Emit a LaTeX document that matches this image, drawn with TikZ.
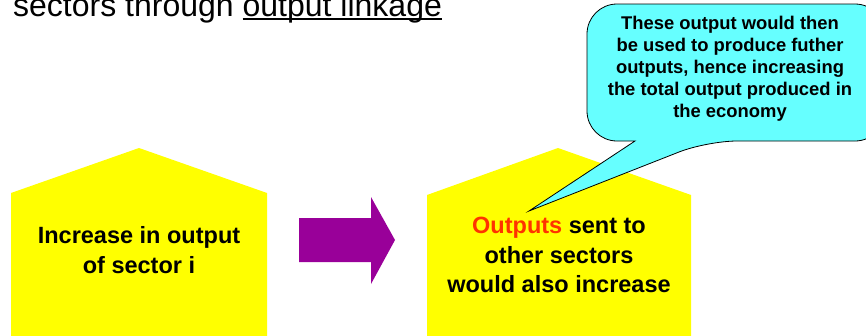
\documentclass[tikz,border=0pt]{standalone}
\usepackage{fontspec}
\setmainfont{Liberation Sans}
\definecolor{boxyellow}{HTML}{FFFF00}
\definecolor{arrowpurple}{HTML}{990099}
\definecolor{calloutcyan}{HTML}{66FFFF}
\definecolor{keyred}{HTML}{FF3300}
\newcommand\thickul[1]{\setbox0\hbox{#1}\rlap{\rule[-4pt]{\wd0}{2.4pt}}\box0}
\begin{document}
\begin{tikzpicture}[
      x=1pt, y=-1pt,
      house/.style={fill=boxyellow, draw=none},
      housetext/.style={font=\fontsize{23.5}{29.5}\selectfont\bfseries, align=center},
      bubble/.style={fill=calloutcyan, draw=black, line width=0.8pt, rounded corners=30pt},
      bubbletext/.style={font=\fontsize{18.4}{22}\selectfont\bfseries, align=center},
      bigarrow/.style={fill=arrowpurple, draw=none},
      heading/.style={font=\fontsize{32}{36}\selectfont, anchor=base west, inner sep=0pt}
    ]
    \clip (0,0) rectangle (866,335);
    \useasboundingbox (0,0) rectangle (866,335);

    % Heading, cut at the top
    \node[heading] (title) at (13,16)
      {sectors through \thickul{output linkage}};

    % Left house
    \fill[house] (11,336) -- (11,193) -- (139,148) -- (267,193) -- (267,336) -- cycle;
    \node[housetext] (cause) at (139,250) {Increase in output\\of sector i};

    % Block arrow
    \fill[bigarrow] (299,218) -- (371,218) -- (371,197) -- (395,240)
      -- (371,284) -- (371,262) -- (299,262) -- cycle;

    % Right house
    \fill[house] (427,336) -- (427,195) -- (558,148) -- (691,195) -- (691,336) -- cycle;
    \node[housetext] (effect) at (559,255)
      {\textcolor{keyred}{Outputs} sent to\\other sectors\\would also increase};
    \coordinate (tip) at (529,211);

    % Callout
    \draw[bubble] (635,141) -- (587,141) -- (587,4) -- (885,4) -- (885,141)
      -- (707,141) [sharp corners] -- (tip) -- cycle;
    \node[bubbletext] (note) at (730,69)
      {These output would then\\be used to produce futher\\outputs, hence increasing\\the total output produced in\\the economy};
  \end{tikzpicture}
\end{document}
